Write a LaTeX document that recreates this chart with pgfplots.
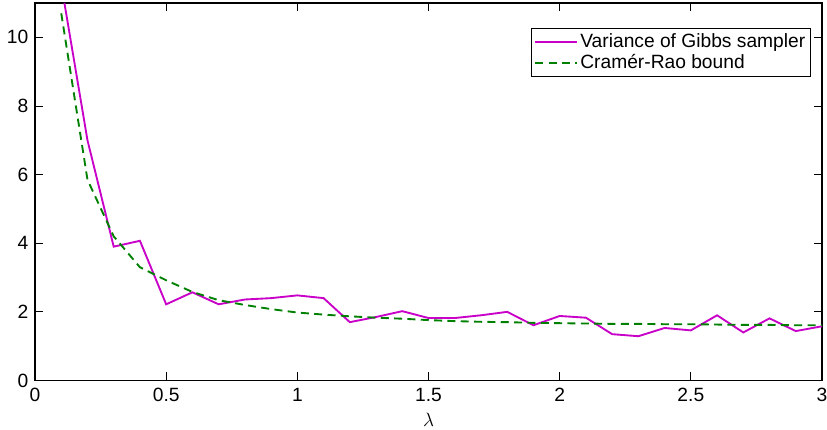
\documentclass[border=0pt]{standalone}
\usepackage{pgfplots}
\pgfplotsset{compat=1.18}
\usepackage{fontspec}
\setmainfont{Liberation Sans}
\definecolor{mag}{RGB}{200,0,200}
\definecolor{grn}{RGB}{0,128,0}
\begin{document}
\fontsize{14.4}{17}\selectfont
\begin{tikzpicture}
\begin{axis}[
  name=ax,
  scale only axis,
  width=590pt, height=283pt,
  xmin=0, xmax=3, ymin=0, ymax=11,
  xtick={0,0.5,...,3}, ytick={0,2,...,10},
  xticklabels={0,0.5,1,1.5,2,2.5,3},
  /pgf/number format/assume math mode=true,
  tick label style={font=\fontsize{14.4}{17}\selectfont},
  xticklabel style={yshift=-1pt},
  tick align=inside, major tick length=6pt,
  axis line style={line width=0.9pt},
  tick style={line width=0.6pt, black},
  xlabel={$\lambda$},
  xlabel style={inner sep=1pt, yshift=-2pt},
  legend style={at={(0.986,0.935)}, anchor=north east, draw=black, line width=0.6pt,
    font=\fontsize{14.4}{17}\selectfont, inner sep=2pt, row sep=-1pt,
    /tikz/every even column/.append style={column sep=0pt}},
  legend cell align=left,
  legend image code/.code={\draw[#1] (0pt,0pt) -- (31pt,0pt);},
]
\addplot[mag, line width=1.4pt] coordinates {
(0.1,11.55) (0.2,7.0) (0.3,3.9) (0.4,4.07) (0.5,2.22) (0.6,2.57) (0.7,2.22) (0.8,2.36) (0.9,2.40) (1.0,2.48)
(1.1,2.40) (1.2,1.70) (1.3,1.85) (1.4,2.02) (1.5,1.82) (1.6,1.82) (1.7,1.90) (1.8,2.00) (1.9,1.61) (2.0,1.88)
(2.1,1.83) (2.2,1.35) (2.3,1.29) (2.4,1.53) (2.5,1.46) (2.6,1.90) (2.7,1.40) (2.8,1.81) (2.9,1.44) (3.0,1.58)
};
\addlegendentry{Variance of Gibbs sampler}
\addplot[grn, line width=1.4pt, dash pattern=on 6pt off 4pt] coordinates {
(0.1,10.7) (0.2,5.85) (0.3,4.2) (0.4,3.3) (0.5,2.92) (0.6,2.58) (0.7,2.34) (0.8,2.2) (0.9,2.08) (1.0,1.98)
(1.1,1.92) (1.2,1.87) (1.3,1.83) (1.4,1.80) (1.5,1.76) (1.6,1.73) (1.7,1.71) (1.8,1.70) (1.9,1.68) (2.0,1.67)
(2.1,1.66) (2.2,1.65) (2.3,1.65) (2.4,1.64) (2.5,1.64) (2.6,1.63) (2.7,1.62) (2.8,1.62) (2.9,1.61) (3.0,1.61)
};
\addlegendentry{Cramér-Rao bound}
\end{axis}
\pgfresetboundingbox
\path (ax.south west) ++(-26.25pt,-36.75pt);
\path (ax.north east) ++(3.75pt,2.25pt);
\end{tikzpicture}
\end{document}
